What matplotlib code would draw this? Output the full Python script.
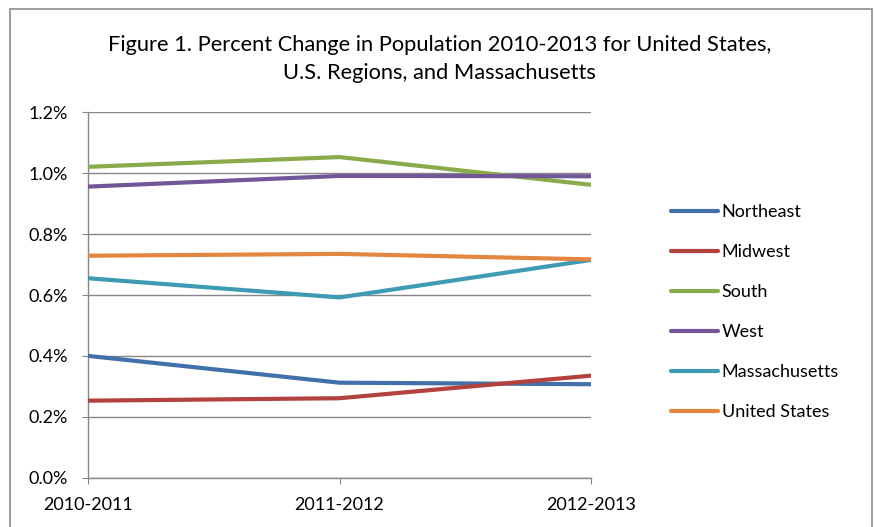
import matplotlib
matplotlib.use("Agg")
import matplotlib.pyplot as plt
from matplotlib.patches import Rectangle
from matplotlib.ticker import FuncFormatter

periods = ["2010-2011", "2011-2012", "2012-2013"]
northeast = [0.400, 0.312, 0.307]
midwest = [0.253, 0.261, 0.335]
south = [1.021, 1.053, 0.962]
west = [0.956, 0.991, 0.990]
massachusetts = [0.655, 0.592, 0.715]
united_states = [0.729, 0.735, 0.717]

series = [
    ("Northeast", northeast, "#4170AB"),
    ("Midwest", midwest, "#B3423F"),
    ("South", south, "#8AAB4B"),
    ("West", west, "#715698"),
    ("Massachusetts", massachusetts, "#3F9BB3"),
    ("United States", united_states, "#E3863F"),
]

plt.rcParams["font.family"] = ["Lato", "DejaVu Sans"]

fig = plt.figure(figsize=(8.74, 5.27), dpi=100)
ax = fig.add_axes([88.3 / 874, 1 - 477.7 / 527, (590.7 - 88.3) / 874, (477.7 - 112.3) / 527])

# chart area border
fig.patches.append(Rectangle((10 / 874, -0.05), 862 / 874, 1.05 - 9 / 527,
                             transform=fig.transFigure, fill=False,
                             edgecolor="#8c8c8c", linewidth=1.2))

x = list(range(len(periods)))
for name, vals, col in series:
    ax.plot(x, vals, color=col, linewidth=3, label=name, solid_capstyle="round")

ax.set_xlim(0, 2)
ax.set_ylim(0, 1.2)
ax.set_yticks([0, 0.2, 0.4, 0.6, 0.8, 1.0, 1.2])
ax.yaxis.set_major_formatter(FuncFormatter(lambda v, p: "%.1f%%" % v))
ax.set_xticks(x)
ax.set_xticklabels(periods)
ax.grid(axis="y", color="#878787", linewidth=1)
ax.set_axisbelow(True)

for s in ["top", "right"]:
    ax.spines[s].set_visible(False)
for s in ["left", "bottom"]:
    ax.spines[s].set_color("#878787")
    ax.spines[s].set_linewidth(1)
    ax.spines[s].set_zorder(0.5)

ax.tick_params(axis="y", length=4.3, color="#878787", pad=10.5, labelsize=13)
ax.tick_params(axis="x", length=4, color="#878787", pad=10, labelsize=13)

fig.text(0.503, 1 - 45 / 527, "Figure 1. Percent Change in Population 2010-2013 for United States,",
         ha="center", va="center", fontsize=15.75)
fig.text(0.503, 1 - 73 / 527, "U.S. Regions, and Massachusetts",
         ha="center", va="center", fontsize=15.75)

ax.legend(loc="upper left", bbox_to_anchor=(671 / 874, 1 - 204 / 527),
          bbox_transform=fig.transFigure, frameon=False, fontsize=13,
          borderpad=0, borderaxespad=0, handlelength=2.6, handletextpad=0.2,
          labelspacing=1.33)

fig.savefig("out.png", dpi=100)
